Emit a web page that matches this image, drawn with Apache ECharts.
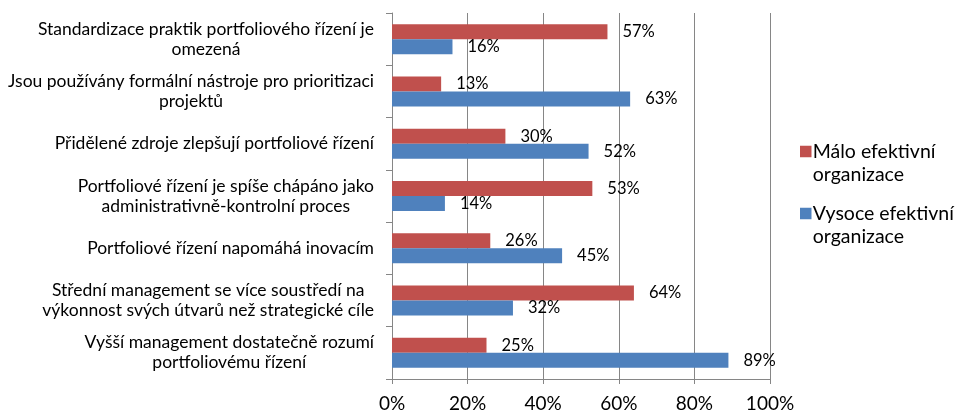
<!DOCTYPE html>
<html><head><meta charset="utf-8">
<script src="https://cdn.jsdelivr.net/npm/echarts@6/dist/echarts.min.js"></script>
<style>html,body{margin:0;padding:0;background:#fff}#c{width:958px;height:414px}</style>
</head><body><div id="c"></div>
<script>
var categories = [
  'Standardizace praktik portfoliového řízení je\nomezená',
  'Jsou používány formální nástroje pro prioritizaci\nprojektů',
  'Přidělené zdroje zlepšují portfoliové řízení',
  'Portfoliové řízení je spíše chápáno jako\nadministrativně-kontrolní proces',
  'Portfoliové řízení napomáhá inovacím',
  'Střední management se více soustředí na\nvýkonnost svých útvarů než strategické cíle',
  'Vyšší management dostatečně rozumí\nportfoliovému řízení'
];
var seriesNames = ['Málo efektivní organizace', 'Vysoce efektivní organizace'];
var maloValues = [57, 13, 30, 53, 26, 64, 25];
var vysoceValues = [16, 63, 52, 14, 45, 32, 89];
var xTicks = [0, 20, 40, 60, 80, 100];

var FONT = 'Lato';
var chart = echarts.init(document.getElementById('c'));
var lbl = {show: true, position: 'right', distance: 15, formatter: '{c}%', color: '#000', fontFamily: FONT, fontSize: 16.5};
chart.setOption({
  animation: false,
  textStyle: {fontFamily: FONT},
  grid: {left: 392, right: 188, top: 13, bottom: 35, containLabel: false},
  legend: {
    orient: 'vertical', left: 795, top: 135, itemGap: 16,
    itemWidth: 12, itemHeight: 46,
    icon: 'path://M0,0h0.01v0.01h-0.01z M0,5h10v10h-10z M0,40h0.01v0.01h-0.01z',
    formatter: function (n) { return n.replace(' organizace', '\norganizace'); },
    textStyle: {fontFamily: FONT, fontSize: 19.5, color: '#000', lineHeight: 23, padding: [0,0,0,-4]},
    data: seriesNames
  },
  xAxis: {
    type: 'value', min: xTicks[0], max: xTicks[xTicks.length - 1], interval: 20,
    axisLine: {show: true, lineStyle: {color: '#868686'}},
    axisTick: {show: true, length: 5, lineStyle: {color: '#868686'}},
    splitLine: {show: true, lineStyle: {color: '#868686', width: 1}},
    axisLabel: {formatter: '{value}%', color: '#000', fontFamily: FONT, fontSize: 19, margin: 15}
  },
  yAxis: {
    type: 'category', inverse: true, data: categories,
    axisLine: {show: true, lineStyle: {color: '#868686'}},
    axisTick: {show: true, length: 6, lineStyle: {color: '#868686'}},
    axisLabel: {
      color: '#000', fontFamily: FONT, fontSize: 17.5, lineHeight: 20, margin: 18, align: 'right',
      formatter: function (v) {
        return v.split('\n').map(function (l) { return '{c|' + l + '}'; }).join('\n');
      },
      rich: {c: {align: 'center', color: '#000', fontFamily: FONT, fontSize: 17.5, lineHeight: 20}}
    }
  },
  series: [
    {name: seriesNames[0], type: 'bar', data: maloValues, barWidth: 15, barGap: '0%',
     itemStyle: {color: '#C0504D'}, label: lbl},
    {name: seriesNames[1], type: 'bar', data: vysoceValues, barWidth: 15, barGap: '0%',
     itemStyle: {color: '#4F81BD'}, label: lbl}
  ]
});
</script></body></html>
